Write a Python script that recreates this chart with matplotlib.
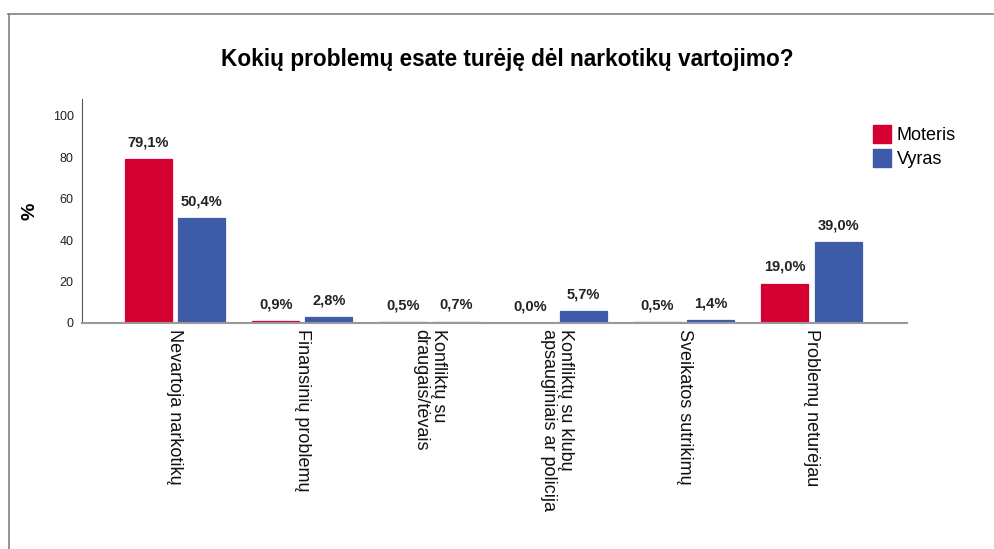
import matplotlib
matplotlib.use("Agg")
import matplotlib.pyplot as plt
import numpy as np
from matplotlib.patches import Rectangle
from matplotlib.lines import Line2D

plt.rcParams['font.family'] = ['Liberation Sans', 'DejaVu Sans']

title = "Kokių problemų esate turėję dėl narkotikų vartojimo?"
categories = ["Nevartoja narkotikų", "Finansinių problemų", "Konfliktų su\ndraugais/tėvais",
              "Konfliktų su klubų\napsauginiais ar policija", "Sveikatos sutrikimų", "Problemų neturėjau"]
series_names = ["Moteris", "Vyras"]
moteris = [79.1, 0.9, 0.5, 0.0, 0.5, 19.0]
vyras = [50.4, 2.8, 0.7, 5.7, 1.4, 39.0]
yticks = [0, 20, 40, 60, 80, 100]
colors = ["#D50032", "#3E5BA9"]

fig = plt.figure(figsize=(9.94, 5.49), dpi=100)
ax = fig.add_axes([0.0825, 0.4117, 0.83, 0.408])

x = np.arange(len(categories))
w = 0.37
gap = 0.024
for vals, off, col in [(moteris, -(w / 2 + gap), colors[0]), (vyras, (w / 2 + gap), colors[1])]:
    bars = ax.bar(x + off, vals, width=w, color=col, edgecolor=col, linewidth=0.9)
    for b, v in zip(bars, vals):
        if v == 0:
            b.set_linewidth(0)
    for xi, v in zip(x + off, vals):
        ax.annotate(f"{v:.1f}%".replace('.', ','), (xi, v), xytext=(0, 7), textcoords='offset points',
                    ha='center', va='bottom', fontsize=10.5, fontweight='bold', color='#222222')

ax.set_xlim(-0.73, 5.75)
ax.set_ylim(0, 108)
ax.set_yticks(yticks)
ax.set_yticklabels([str(t) for t in yticks], fontsize=9, color='#222222')
ax.tick_params(axis='y', length=0, pad=6)
ax.set_xticks(x)
ax.set_xticklabels(categories, rotation=270, fontsize=13, ha='center', va='top', rotation_mode='default',
                   multialignment='left', linespacing=1.0, color='#111111')
ax.tick_params(axis='x', length=0, pad=4)
for s in ['top', 'right']:
    ax.spines[s].set_visible(False)
ax.spines['left'].set_color('#555555')
ax.spines['left'].set_linewidth(0.8)
ax.spines['bottom'].set_color('#999999')
ax.spines['bottom'].set_linewidth(1.5)
ax.set_ylabel('%', fontsize=14, fontweight='bold', labelpad=10)

fig.text(0.51, 0.892, title, ha='center', va='center', fontsize=16.3, fontweight='bold')

handles = [Rectangle((0, 0), 1, 1, color=c) for c in colors]
fig.legend(handles, series_names, loc='upper left', bbox_to_anchor=(0.871, 0.785), frameon=False,
           fontsize=13, handlelength=1.0, handleheight=1.1, handletextpad=0.3, labelspacing=0.3,
           borderaxespad=0)

# outer frame lines
fig.add_artist(Line2D([8 / 994, 993 / 994], [1 - 13.5 / 549, 1 - 13.5 / 549], color='#808080', lw=1.2,
                      transform=fig.transFigure))
fig.add_artist(Line2D([8.5 / 994, 8.5 / 994], [0, 1 - 13.5 / 549], color='#808080', lw=1.2,
                      transform=fig.transFigure))

fig.savefig('out.png', dpi=100, facecolor='white')
